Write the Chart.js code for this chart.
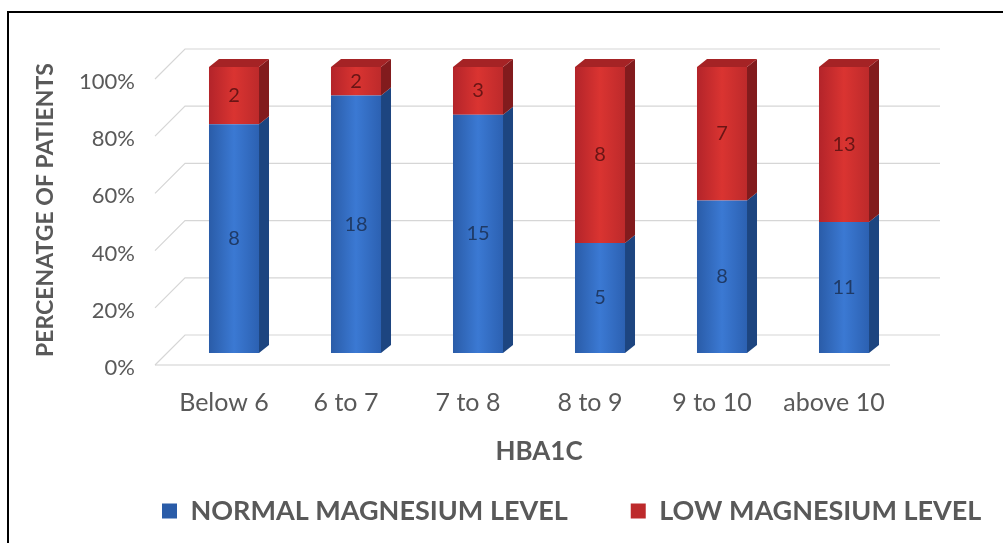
<!DOCTYPE html>
<html><head><meta charset="utf-8">
<script src="https://cdn.jsdelivr.net/npm/chart.js@4.4.1/dist/chart.umd.min.js"></script>
<style>
html,body{margin:0;padding:0;width:1003px;height:543px;overflow:hidden;background:#fff;}
#wrap{position:relative;width:1003px;height:543px;overflow:hidden;}
#title{position:absolute;left:120px;top:-24px;margin:0;padding:0;font-family:"Liberation Sans",Arial,sans-serif;font-weight:bold;font-size:23px;line-height:23px;height:23px;white-space:nowrap;color:#000;}
#frame{position:absolute;left:7px;top:11px;width:1010px;height:560px;border:2px solid #000;box-sizing:border-box;pointer-events:none;}
canvas{position:absolute;left:0;top:0;}
</style></head><body>
<div id="wrap">
<canvas id="c" width="1003" height="543"></canvas>
<div id="title">Figure 3: Association between HbA1c and Magnesium level in the patients</div>
<div id="frame"></div>
</div>
<script>
// ---- data ----
const categories = ['Below 6', '6 to 7', '7 to 8', '8 to 9', '9 to 10', 'above 10'];
const normalCounts = [8, 18, 15, 5, 8, 11];
const lowCounts = [2, 2, 3, 8, 7, 13];
const seriesNames = ['NORMAL MAGNESIUM LEVEL', 'LOW MAGNESIUM LEVEL'];
const yTicks = [0, 20, 40, 60, 80, 100];
const xTitle = 'HBA1C';
const yTitle = 'PERCENATGE OF PATIENTS';

// ---- style ----
const FONT = 'Lato, "Open Sans", sans-serif';
const TEXT = '#595959';
const BAR_PCT = 0.41;
const DEPTH_X = 10, DEPTH_Y = 8;
const BLUE = {front: ['#2a5ca8', '#3b79d3', '#2c61b2'], side: '#1d4580', solid: '#3670c4', label: '#1f3a66'};
const RED = {front: ['#b3242a', '#da3431', '#bd2a2b'], side: '#821b1d', top: '#a52325', solid: '#c9292b', label: '#6a1515'};
const LEGEND_FONT = 27, LEGEND_BOX = 15, LEGEND_PAD = 63, LEGEND_LEFT = 99, LEGEND_CY = 511;

const pct = (a, b) => a.map((v, i) => v / (v + b[i]) * 100);

function frontFill(c, pal) {
  const chart = c.chart, xs = chart.scales.x;
  if (c.type !== 'data' || !xs || !chart.chartArea) return pal.solid;
  const cx = xs.getPixelForValue(c.dataIndex);
  const w = xs.width / categories.length * BAR_PCT;
  const g = chart.ctx.createLinearGradient(cx - w / 2, 0, cx + w / 2, 0);
  g.addColorStop(0, pal.front[0]); g.addColorStop(0.5, pal.front[1]); g.addColorStop(1, pal.front[2]);
  return g;
}

const wallPlugin = {
  id: 'wall',
  beforeDatasetsDraw(chart) {
    const {ctx, chartArea: a, scales: {y}} = chart;
    ctx.save();
    ctx.strokeStyle = '#d6d6d6'; ctx.lineWidth = 1.2;
    yTicks.forEach(v => {
      const py = y.getPixelForValue(v);
      ctx.beginPath();
      ctx.moveTo(a.left - 18, py + 12);
      ctx.lineTo(a.left + 12, py - 18);
      ctx.lineTo(a.right + 35, py - 18);
      ctx.stroke();
    });
    const y0 = y.getPixelForValue(0);
    ctx.strokeStyle = '#cfcfcf';
    ctx.beginPath();
    ctx.moveTo(a.left - 18, y0 + 12);
    ctx.lineTo(a.right - 15, y0 + 12);
    ctx.stroke();
    ctx.restore();
  },
  afterDatasetsDraw(chart) {
    const ctx = chart.ctx;
    const last = chart.data.datasets.length - 1;
    ctx.save();
    chart.data.datasets.forEach((ds, di) => {
      const meta = chart.getDatasetMeta(di);
      meta.data.forEach(el => {
        const {x, y, base, width} = el.getProps(['x', 'y', 'base', 'width'], true);
        const r = x + width / 2, l = x - width / 2;
        ctx.fillStyle = ds.pal.side;
        ctx.beginPath();
        ctx.moveTo(r, y); ctx.lineTo(r + DEPTH_X, y - DEPTH_Y);
        ctx.lineTo(r + DEPTH_X, base - DEPTH_Y); ctx.lineTo(r, base);
        ctx.closePath(); ctx.fill();
        if (di === last) {
          ctx.fillStyle = ds.pal.top;
          ctx.beginPath();
          ctx.moveTo(l, y); ctx.lineTo(l + DEPTH_X, y - DEPTH_Y);
          ctx.lineTo(r + DEPTH_X, y - DEPTH_Y); ctx.lineTo(r, y);
          ctx.closePath(); ctx.fill();
        }
      });
    });
    ctx.font = '20px ' + FONT;
    ctx.textAlign = 'center'; ctx.textBaseline = 'middle';
    chart.data.datasets.forEach((ds, di) => {
      const meta = chart.getDatasetMeta(di);
      meta.data.forEach((el, i) => {
        const {x, y, base} = el.getProps(['x', 'y', 'base'], true);
        ctx.fillStyle = ds.pal.label;
        ctx.fillText(String(ds.counts[i]), x, (y + base) / 2);
      });
    });
    ctx.restore();
  }
};

const legendPlacer = {
  id: 'legendPlacer',
  afterLayout(chart) {
    const lg = chart.legend;
    if (!lg) return;
    const itemH = Math.max(LEGEND_FONT, LEGEND_BOX);
    lg.left = LEGEND_LEFT; lg.right = chart.width + LEGEND_PAD * 2;
    lg.top = LEGEND_CY - LEGEND_PAD - itemH / 2; lg.bottom = chart.height;
  }
};

new Chart(document.getElementById('c'), {
  type: 'bar',
  data: {
    labels: categories,
    datasets: [
      {label: seriesNames[0], data: pct(normalCounts, lowCounts), counts: normalCounts, pal: BLUE,
       backgroundColor: c => frontFill(c, BLUE), borderWidth: 0, barPercentage: BAR_PCT, categoryPercentage: 1},
      {label: seriesNames[1], data: pct(lowCounts, normalCounts), counts: lowCounts, pal: RED,
       backgroundColor: c => frontFill(c, RED), borderWidth: 0, barPercentage: BAR_PCT, categoryPercentage: 1}
    ]
  },
  options: {
    responsive: false, animation: false,
    layout: {padding: {left: 0, right: 0, top: 67, bottom: 0}},
    plugins: {
      tooltip: {enabled: false},
      legend: {
        position: 'bottom', align: 'start', maxHeight: 70,
        labels: {padding: LEGEND_PAD, boxWidth: LEGEND_BOX, boxHeight: LEGEND_BOX, color: TEXT,
                 font: {family: FONT, size: LEGEND_FONT, weight: 'bold'}}
      }
    },
    scales: {
      x: {
        stacked: true,
        grid: {display: false, drawTicks: false}, border: {display: false},
        ticks: {padding: 35, labelOffset: -10, color: TEXT, font: {family: FONT, size: 25}},
        title: {display: true, text: xTitle, color: TEXT, font: {family: FONT, size: 26, weight: 'bold'}, padding: {top: 0, bottom: 6}},
        afterFit(s) { s.height = 120; }
      },
      y: {
        stacked: true, min: 0, max: 100,
        grid: {display: false, drawTicks: false}, border: {display: false},
        afterBuildTicks(s) { s.ticks = yTicks.map(v => ({value: v})); },
        ticks: {padding: 38, labelOffset: 15, color: TEXT, font: {family: FONT, size: 22}, callback: v => v + '%'},
        title: {display: true, text: yTitle, color: TEXT, font: {family: FONT, size: 23, weight: 'bold'}, padding: {top: 32, bottom: 0}},
        afterFit(s) { s.width = 173; }
      },
      rightSpace: {
        type: 'linear', position: 'right', display: true,
        grid: {display: false, drawTicks: false}, border: {display: false},
        ticks: {display: false},
        afterFit(s) { s.width = 98; }
      }
    }
  },
  plugins: [wallPlugin, legendPlacer]
});
</script>
</body></html>
